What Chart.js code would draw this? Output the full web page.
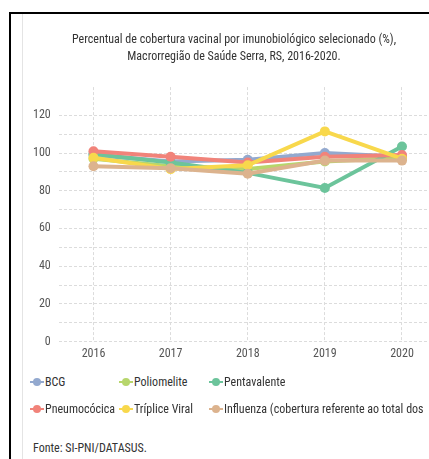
<!DOCTYPE html>
<html lang="pt-BR">
<head>
<meta charset="utf-8">
<script src="https://cdn.jsdelivr.net/npm/chart.js@4.4.1/dist/chart.umd.min.js"></script>
<style>
  html, body { margin: 0; padding: 0; background: #fff; overflow: hidden; width: 429px; height: 459px; }
  body { position: relative; font-family: "Roboto Condensed", "DejaVu Sans Condensed", sans-serif; }
  .frame { position: absolute; left: 9px; top: 12px; width: 460px; height: 480px; border-top: 2px solid #000; border-left: 2px solid #000; }
  .inner { position: absolute; left: 22px; top: 14px; width: 1px; height: 460px; background: #e4e4e4; }
  .chart-box { position: absolute; left: 22px; top: 14px; width: 421px; height: 352px; }
  .legend { position: absolute; left: 30px; top: 372px; width: 420px; height: 56px; overflow: hidden; }
  .legend-item { position: absolute; display: flex; align-items: flex-start; font-size: 12px; color: #333; line-height: 14px; white-space: nowrap; }
  .legend-item canvas { flex: none; margin-right: 1px; }
  .source { position: absolute; left: 33px; top: 441px; font-size: 12px; color: #333; }
</style>
</head>
<body>
<div class="frame"></div>
<div class="inner"></div>
<div class="chart-box"><canvas id="cobertura"></canvas></div>
<div class="legend" id="legenda"></div>
<div class="source">Fonte: SI-PNI/DATASUS.</div>
<script>
const anos = [2016, 2017, 2018, 2019, 2020];

const bcg = [99, 95.5, 96.5, 100, 98];
const poliomielite = [97, 93, 91.5, 95.5, 97.5];
const pentavalente = [99.5, 95, 89.5, 81.5, 103.5];
const pneumococica = [101, 98, 95, 98, 99];
const triplice = [97.5, 91.5, 93.5, 111.5, 97];
const influenza = [93, 92, 89, 96, 96];

const nomes = [
  "BCG",
  "Poliomelite",
  "Pentavalente",
  "Pneumocócica",
  "Tríplice Viral",
  "Influenza (cobertura referente ao total dos",
];
const series = [bcg, poliomielite, pentavalente, pneumococica, triplice, influenza];
const cores = ["#93a9cf", "#b7d66c", "#6cc49b", "#f1837a", "#f8d84c", "#dcb38e"];

const titulo = [
  "Percentual de cobertura vacinal por imunobiológico selecionado (%),",
  "Macrorregião de Saúde Serra, RS, 2016-2020.",
];

const fonte = { family: '"Roboto Condensed", "DejaVu Sans Condensed", sans-serif', size: 12 };

const datasets = series.map((valores, i) => ({
  label: nomes[i],
  data: anos.map((ano, j) => ({ x: ano, y: valores[j] })),
  borderColor: cores[i],
  backgroundColor: cores[i],
  borderWidth: 4,
  pointRadius: 5,
  pointHoverRadius: 5,
  pointBorderWidth: 0,
  tension: 0,
  // last series ends up on top
  order: series.length - i,
}));

const chart = new Chart(document.getElementById("cobertura"), {
  type: "line",
  data: { datasets },
  options: {
    responsive: true,
    maintainAspectRatio: false,
    animation: false,
    layout: { padding: { left: 3, right: 0, top: 0, bottom: 0 } },
    plugins: {
      legend: { display: false },
      tooltip: { enabled: false },
      title: {
        display: true,
        text: titulo,
        color: "#333",
        font: { ...fonte, size: 12, weight: "normal", lineHeight: 1.42 },
        padding: { top: 17, bottom: 22 },
      },
    },
    scales: {
      x: {
        type: "linear",
        min: 2015.55,
        max: 2020.467,
        grid: { color: "#dcdcdc", drawTicks: false },
        border: { display: false, dash: [3, 2] },
        ticks: {
          stepSize: 1,
          includeBounds: false,
          color: "#555",
          font: fonte,
          padding: 5,
          maxRotation: 0,
          callback: (v) => (Number.isInteger(v) ? String(v) : ""),
        },
      },
      y: {
        min: 0,
        max: 135,
        grid: { color: "#dcdcdc", drawTicks: false },
        border: { display: false, dash: [3, 2] },
        afterBuildTicks: (scale) => {
          scale.ticks = scale.ticks.filter((t) => t.value <= 120);
        },
        ticks: {
          stepSize: 10,
          includeBounds: false,
          color: "#555",
          font: fonte,
          padding: 8,
          callback: (v) => (v % 20 === 0 ? String(v) : ""),
        },
      },
    },
  },
});

// legend in three fixed columns, marker = short line with a dot
const legenda = document.getElementById("legenda");
const colunas = [0, 89, 179];
chart.data.datasets.forEach((ds, i) => {
  const item = document.createElement("div");
  item.className = "legend-item";
  item.style.left = colunas[i % 3] + "px";
  item.style.top = (i < 3 ? 3 : 30) + "px";
  const mk = document.createElement("canvas");
  mk.width = 14;
  mk.height = 14;
  const ctx = mk.getContext("2d");
  ctx.strokeStyle = ds.borderColor;
  ctx.fillStyle = ds.borderColor;
  ctx.lineWidth = 2;
  ctx.beginPath();
  ctx.moveTo(0, 7);
  ctx.lineTo(14, 7);
  ctx.stroke();
  ctx.beginPath();
  ctx.arc(7, 7, 4, 0, Math.PI * 2);
  ctx.fill();
  const txt = document.createElement("span");
  txt.textContent = ds.label;
  item.appendChild(mk);
  item.appendChild(txt);
  legenda.appendChild(item);
});
</script>
</body>
</html>
